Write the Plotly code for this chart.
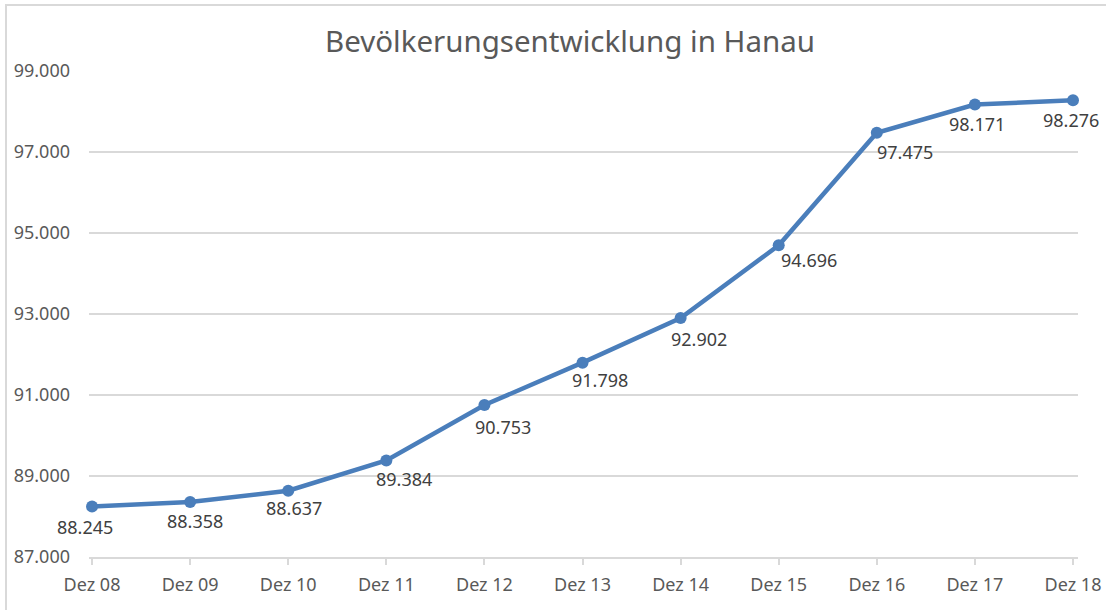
import plotly.graph_objects as go

categories = ["Dez 08", "Dez 09", "Dez 10", "Dez 11", "Dez 12", "Dez 13",
              "Dez 14", "Dez 15", "Dez 16", "Dez 17", "Dez 18"]
population = [88245, 88358, 88637, 89384, 90753, 91798, 92902, 94696, 97475, 98171, 98276]
y_ticks = [87000, 89000, 91000, 93000, 95000, 97000, 99000]

# label placement (pixel offsets from each point, as in the original chart)
label_dx = [-7, 5, 6, 18, 19, 17, 18, 30, 28, 2, -2]
label_dy = [-20, -19, -17, -19, -22, -17, -21, -15, -19, -19, -20]

FONT = "Noto Sans"
GREY = "#595959"
LINE = "#4a7ebb"
GRID = "#d9d9d9"

fig = go.Figure()
fig.add_trace(go.Scatter(
    x=categories, y=population,
    mode="lines+markers",
    line=dict(color=LINE, width=4.5),
    marker=dict(color=LINE, size=12),
    cliponaxis=False,
    showlegend=False,
    hoverinfo="skip",
))

# data labels near each point
for c, v, dx, dy in zip(categories, population, label_dx, label_dy):
    fig.add_annotation(
        x=c, y=v, xref="x", yref="y",
        text=f"{v:,}".replace(",", "."),
        showarrow=False, xshift=dx, yshift=dy, yanchor="middle", xanchor="center",
        font=dict(family=FONT, size=18, color="#404040"),
    )

L, R, T, B = 89, 28, 71, 53
W, H = 1106, 610
pw, ph = W - L - R, H - T - B

fig.update_layout(
    width=W, height=H,
    autosize=False,
    margin=dict(l=L, r=R, t=T, b=B, pad=0, autoexpand=False),
    paper_bgcolor="white", plot_bgcolor="white",
    separators=",.",
    font=dict(family=FONT, color=GREY),
    title=dict(
        text="Bevölkerungsentwicklung in Hanau",
        x=(570 - L) / pw, xref="paper", xanchor="center",
        y=1 - 42 / H, yref="container", yanchor="middle",
        font=dict(family=FONT, size=29.5, color=GREY),
    ),
    xaxis=dict(
        type="category",
        range=[-0.031, 10.051],
        automargin=False,
        showgrid=False,
        showline=True, linecolor=GRID, linewidth=1.5,
        ticks="outside", ticklen=6, tickcolor=GRID, tickwidth=1.5,
        tickfont=dict(family=FONT, size=18, color=GREY),
        ticklabelstandoff=5,
        zeroline=False,
    ),
    yaxis=dict(
        range=[87000, 99000],
        automargin=False,
        tickvals=y_ticks,
        tickformat=",",
        showgrid=True, gridcolor=GRID, gridwidth=1.5,
        showline=False, zeroline=False,
        tickfont=dict(family=FONT, size=18, color=GREY),
        ticklabelstandoff=18,
    ),
    shapes=[dict(
        type="rect", xref="paper", yref="paper",
        x0=(6 - L) / pw, x1=(W + 10 - L) / pw,
        y0=-(H + 10 - (T + ph)) / ph, y1=1 + (T - 5) / ph,
        line=dict(color=GRID, width=2), fillcolor="rgba(0,0,0,0)",
        layer="below",
    )],
)

fig.write_html(
    "out.html",
    config={"displayModeBar": False, "responsive": False},
    post_script="document.body.style.margin='0px';document.body.style.overflow='hidden';",
)
